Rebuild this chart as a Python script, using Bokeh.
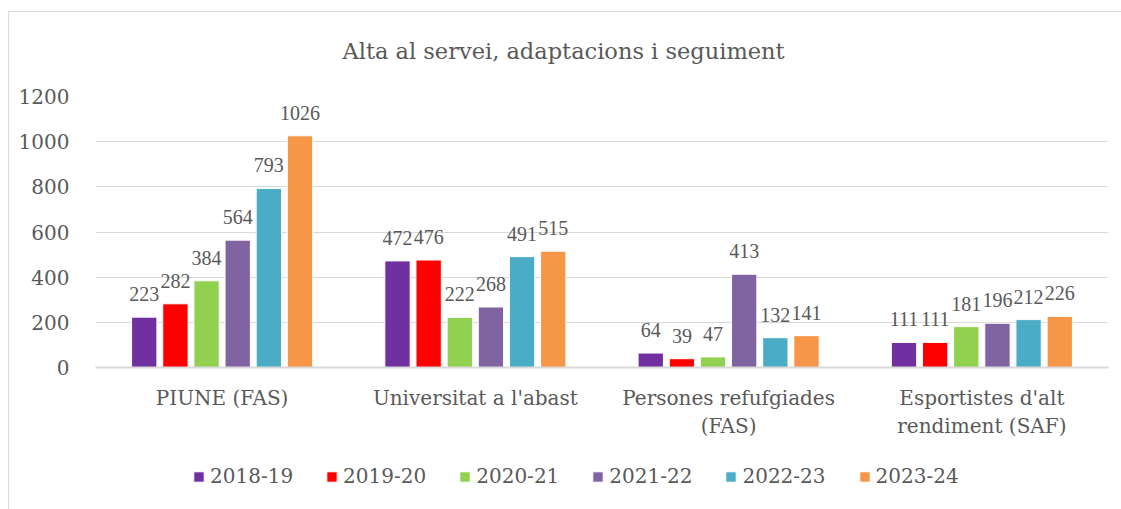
from bokeh.plotting import figure
from bokeh.layouts import column
from bokeh.models import ColumnDataSource, FactorRange, Range1d, LabelSet, Legend, LegendItem
from bokeh.transform import dodge
from bokeh.embed import file_html
from bokeh.resources import INLINE

title = "Alta al servei, adaptacions i seguiment"
categories = ["PIUNE (FAS)", "Universitat a l'abast", "Persones refufgiades\n(FAS)", "Esportistes d'alt\nrendiment (SAF)"]
series = ["2018-19", "2019-20", "2020-21", "2021-22", "2022-23", "2023-24"]
v_2018_19 = [223, 472, 64, 111]
v_2019_20 = [282, 476, 39, 111]
v_2020_21 = [384, 222, 47, 181]
v_2021_22 = [564, 268, 413, 196]
v_2022_23 = [793, 491, 132, 212]
v_2023_24 = [1026, 515, 141, 226]
values = [v_2018_19, v_2019_20, v_2020_21, v_2021_22, v_2022_23, v_2023_24]
colors = ["#7030A0", "#FF0000", "#92D050", "#8064A2", "#4BACC6", "#F79646"]
y_ticks = [0, 200, 400, 600, 800, 1000, 1200]

FONT = "DejaVu Serif"
TXT = "#595959"
GRID = "#d9d9d9"

p = figure(width=1121, height=445, x_range=FactorRange(*categories), y_range=Range1d(0, 1200),
           output_backend="svg", toolbar_location=None,
           min_border_left=95, min_border_right=13, min_border_top=96, min_border_bottom=78)
p.outline_line_color = None
p.background_fill_alpha = 0
p.border_fill_alpha = 0
p.xgrid.grid_line_color = None
p.ygrid.grid_line_color = GRID
p.ygrid.grid_line_width = 1
p.yaxis.ticker = y_ticks
p.yaxis.axis_line_color = None
p.yaxis.major_tick_line_color = None
p.yaxis.minor_tick_line_color = None
p.yaxis.major_label_standoff = 20
p.xaxis.axis_line_color = GRID
p.xaxis.axis_line_width = 2
p.xaxis.major_tick_line_color = None
p.xaxis.major_label_standoff = 12
for ax in (p.xaxis, p.yaxis):
    ax.major_label_text_font = FONT
    ax.major_label_text_font_size = "20px"
    ax.major_label_text_color = TXT
p.x_range.range_padding = 0
p.x_range.group_padding = 0

p.title.text = title
p.title.align = "left"
p.title.offset = 247
p.title.standoff = 65
p.title.text_font = FONT
p.title.text_font_size = "22.5px"
p.title.text_font_style = "normal"
p.title.text_color = TXT

step = 0.123
for i, (name, vals, col) in enumerate(zip(series, values, colors)):
    src = ColumnDataSource(dict(cat=categories, val=vals, lab=[str(v) for v in vals]))
    off = (i - 2.5) * step
    p.vbar(x=dodge("cat", off, range=p.x_range), top="val", width=0.1, source=src,
           fill_color=col, line_color="white", line_width=1)
    ls = LabelSet(x=dodge("cat", off, range=p.x_range), y="val", text="lab", source=src,
                  text_align="center", text_baseline="alphabetic", y_offset=16,
                  text_font=FONT, text_font_size="20px", text_color=TXT)
    p.add_layout(ls)

# legend strip below the chart (swatch renderers sit outside the visible range)
pl = figure(width=1121, height=64, x_range=Range1d(0, 1), y_range=Range1d(0, 1),
            output_backend="svg", toolbar_location=None,
            min_border_left=0, min_border_right=0, min_border_top=0, min_border_bottom=0)
pl.axis.visible = False
pl.grid.visible = False
pl.outline_line_color = None
pl.background_fill_alpha = 0
pl.border_fill_alpha = 0
items = []
for name, col in zip(series, colors):
    r = pl.vbar(x=[-5], top=[-5], width=0.1, fill_color=col, line_color="white", line_width=1)
    items.append(LegendItem(label=name, renderers=[r]))
legend = Legend(items=items, orientation="horizontal", location=(97, 21),
                glyph_width=13, glyph_height=13, label_standoff=5, spacing=32,
                padding=0, margin=0, border_line_color=None, background_fill_alpha=0,
                label_text_font=FONT, label_text_font_size="20px", label_text_color=TXT,
                label_height=20)
pl.add_layout(legend)

frame_bg = ("linear-gradient(#d9d9d9,#d9d9d9) 8px 11px / 1px 100% no-repeat, "
            "linear-gradient(#d9d9d9,#d9d9d9) 8px 11px / 100% 1px no-repeat, white")
layout = column(p, pl, spacing=0, styles={"background": frame_bg})
open("out.html", "w").write(file_html(layout, INLINE))
